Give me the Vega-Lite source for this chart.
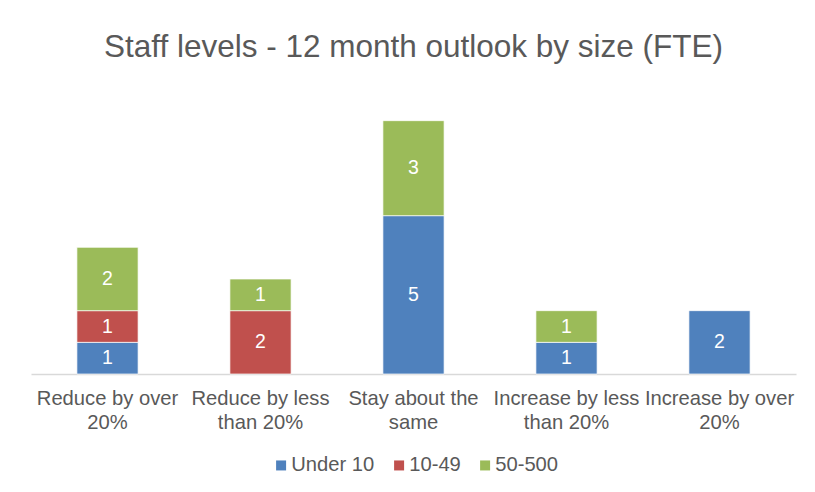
{
  "$schema": "https://vega.github.io/schema/vega-lite/v6.json",
  "width": 765,
  "height": 285,
  "autosize": {"type": "none"},
  "padding": {"left": 31, "top": 89, "right": 19, "bottom": 118},
  "background": "white",
  "title": {
    "text": "Staff levels - 12 month outlook by size (FTE)",
    "font": "Liberation Sans",
    "fontSize": 31.5,
    "fontWeight": "normal",
    "color": "#595959",
    "anchor": "middle",
    "offset": 26
  },
  "config": {
    "view": {"stroke": null},
    "font": "Liberation Sans"
  },
  "data": {
    "values": [
      {"cat": "Reduce by over 20%", "size": "Under 10", "o": 1, "n": 1},
      {"cat": "Reduce by over 20%", "size": "10-49", "o": 2, "n": 1},
      {"cat": "Reduce by over 20%", "size": "50-500", "o": 3, "n": 2},
      {"cat": "Reduce by less than 20%", "size": "10-49", "o": 2, "n": 2},
      {"cat": "Reduce by less than 20%", "size": "50-500", "o": 3, "n": 1},
      {"cat": "Stay about the same", "size": "Under 10", "o": 1, "n": 5},
      {"cat": "Stay about the same", "size": "50-500", "o": 3, "n": 3},
      {"cat": "Increase by less than 20%", "size": "Under 10", "o": 1, "n": 1},
      {"cat": "Increase by less than 20%", "size": "50-500", "o": 3, "n": 1},
      {"cat": "Increase by over 20%", "size": "Under 10", "o": 1, "n": 2}
    ]
  },
  "transform": [
    {"stack": "n", "groupby": ["cat"], "sort": [{"field": "o"}], "as": ["y0", "y1"]},
    {"calculate": "(datum.y0 + datum.y1) / 2", "as": "ymid"}
  ],
  "encoding": {
    "x": {
      "field": "cat",
      "type": "nominal",
      "sort": ["Reduce by over 20%", "Reduce by less than 20%", "Stay about the same", "Increase by less than 20%", "Increase by over 20%"],
      "scale": {"paddingInner": 0.6, "paddingOuter": 0.3},
      "axis": {
        "title": null,
        "labelAngle": 0,
        "labelFont": "Liberation Sans",
        "labelFontSize": 20.2,
        "labelColor": "#595959",
        "labelPadding": 14,
        "labelLineHeight": 24,
        "ticks": false,
        "domainColor": "#D9D9D9",
        "domainWidth": 1.5,
        "labelExpr": "datum.value == 'Reduce by over 20%' ? ['Reduce by over', '20%'] : datum.value == 'Reduce by less than 20%' ? ['Reduce by less', 'than 20%'] : datum.value == 'Stay about the same' ? ['Stay about the', 'same'] : datum.value == 'Increase by less than 20%' ? ['Increase by less', 'than 20%'] : ['Increase by over', '20%']"
      }
    }
  },
  "layer": [
    {
      "mark": {"type": "bar", "stroke": "white", "strokeWidth": 0.7},
      "encoding": {
        "y": {"field": "y0", "type": "quantitative", "scale": {"domain": [0, 9]}, "axis": null},
        "y2": {"field": "y1"},
        "color": {
          "field": "size",
          "type": "nominal",
          "sort": ["Under 10", "10-49", "50-500"],
          "scale": {"domain": ["Under 10", "10-49", "50-500"], "range": ["#4F81BD", "#C0504D", "#9BBB59"]},
          "legend": {
            "title": null,
            "orient": "none",
            "legendX": 240,
            "legendY": 366,
            "direction": "horizontal",
            "symbolType": "square",
            "symbolSize": 100,
            "symbolStrokeWidth": 0,
            "labelFont": "Liberation Sans",
            "labelFontSize": 20.2,
            "labelColor": "#595959",
            "labelOffset": 0,
            "columnPadding": 14
          }
        }
      }
    },
    {
      "mark": {"type": "text", "color": "white", "fontSize": 19.5, "font": "Liberation Sans", "baseline": "middle"},
      "encoding": {
        "y": {"field": "ymid", "type": "quantitative", "scale": {"domain": [0, 9]}},
        "text": {"field": "n", "type": "quantitative"}
      }
    }
  ]
}
